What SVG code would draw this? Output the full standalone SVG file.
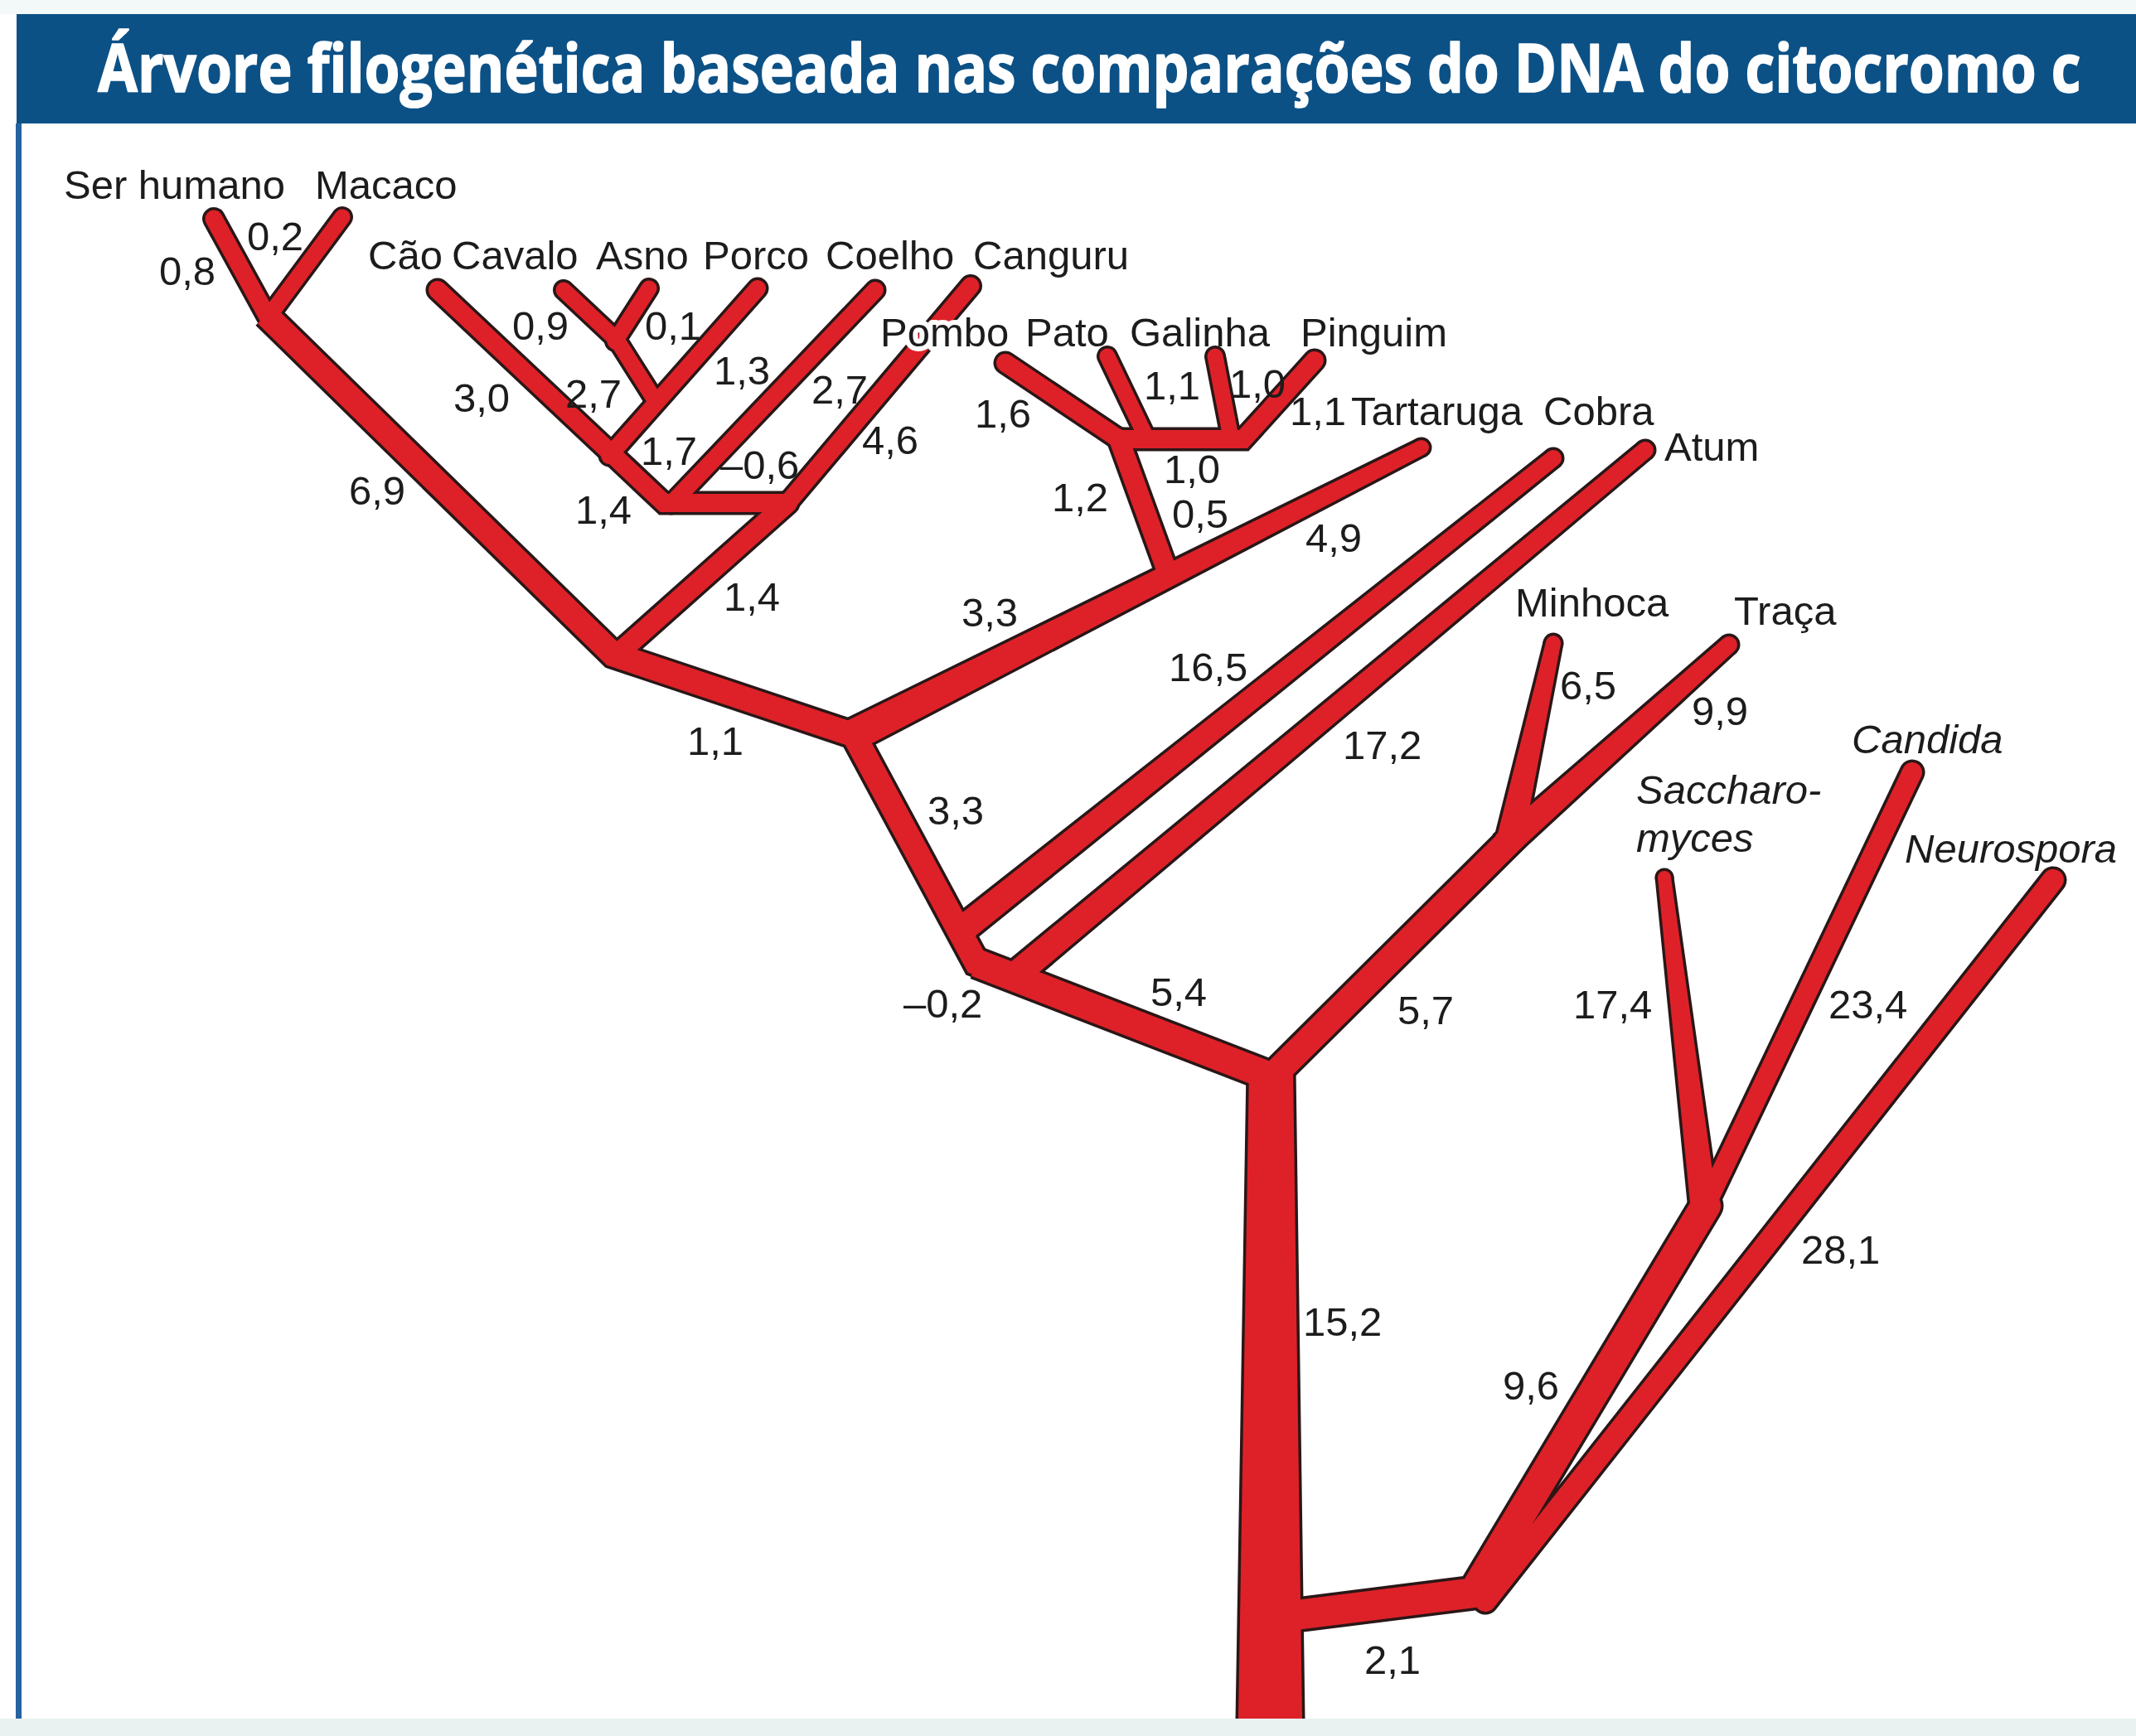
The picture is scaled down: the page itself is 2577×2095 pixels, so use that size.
<svg xmlns="http://www.w3.org/2000/svg" width="2577" height="2095" viewBox="0 0 2577 2095">
<style>
  .lbl{font-family:"Liberation Sans",Arial,Helvetica,sans-serif;font-size:49px;fill:#1c1c1c}
  .it{font-style:italic}
  .title{font-family:"Open Sans","Liberation Sans",sans-serif;font-weight:700;font-size:80px;fill:#ffffff;stroke:#ffffff;stroke-width:1.6px;stroke-linejoin:round}
  .halo{stroke:#ffffff;stroke-width:12px;stroke-linejoin:round;paint-order:stroke}
  .lines{fill:none;stroke-linecap:round;stroke-linejoin:miter;stroke-miterlimit:8}
  .ol{stroke:#2a1717}
  .rd{stroke:#de2128}
  .polys.ol{fill:#2a1717;stroke-width:7px;stroke-linejoin:round}
  .polys.rd{fill:#de2128;stroke:none}
  .butt{stroke-linecap:butt}
  .ol .w19{stroke-width:26px}.rd .w19{stroke-width:19px}
  .ol .w20{stroke-width:27px}.rd .w20{stroke-width:20px}
  .ol .w21{stroke-width:28px}.rd .w21{stroke-width:21px}
  .ol .w22{stroke-width:29px}.rd .w22{stroke-width:22px}
  .ol .w24{stroke-width:31px}.rd .w24{stroke-width:24px}
  .ol .w26{stroke-width:33px}.rd .w26{stroke-width:26px}
  .ol .w29{stroke-width:36px}.rd .w29{stroke-width:29px}
  .ol .w32{stroke-width:39px}.rd .w32{stroke-width:32px}
  .ol .w34{stroke-width:41px}.rd .w34{stroke-width:34px}
  .ol .w36{stroke-width:43px}.rd .w36{stroke-width:36px}
</style>
<defs>
  <!-- branch centre lines -->
  <path id="b-ser" d="M258,264 L326,388"/>
  <path id="b-mac" d="M413,262 L330,374"/>
  <path id="b-spine" d="M321,380 L740,790 L1030,887 L1178,1162 L1535,1300"/>
  <path id="b-54" d="M1178,1162 L1535,1300"/>
  <path id="b-cao" d="M528,350 L801,607 L948,607"/>
  <path id="b-14" d="M950,607 L742,792"/>
  <path id="b-cavalo" d="M680,350 L744,410 L787,478"/>
  <path id="b-asno" d="M783,348 L742,412"/>
  <path id="b-porco" d="M914,348 L735,550"/>
  <path id="b-coelho" d="M1056,350 L810,608"/>
  <path id="b-canguru" d="M1171,345 L946,612"/>
  <path id="b-aves" d="M1213,438 L1350,530 L1500,530 L1586,435"/>
  <path id="b-pato" d="M1336,430 L1383,528"/>
  <path id="b-galinha" d="M1466,430 L1485,528"/>
  <path id="b-aves-base" d="M1350,530 L1410,695"/>
  <path id="b-57" d="M1530,1304 L1826,1010"/>
  <path id="b-candida" d="M2056,1458 L2307,932"/>
  <path id="b-fungi" d="M1540,1952 L1778,1922 L2058,1455"/>
  <path id="b-neuro" d="M1792,1932 L2477,1062"/>
  <!-- tapered branches -->
  <polygon id="p-trunk" points="1507,1290 1560,1290 1571,2076 1494,2076"/>
  <polygon id="p-tartaruga" points="1021.4,870.1 1710.9,532.0 1719.1,548.0 1038.6,904.0"/>
  <circle id="c-tartaruga" cx="1715" cy="540" r="9"/>
  <polygon id="p-cobra" points="1148.0,1111.5 1867.8,545.2 1880.2,560.8 1168.0,1136.5"/>
  <circle id="c-cobra" cx="1874" cy="553" r="10"/>
  <polygon id="p-atum" points="1204.8,1172.7 1978.6,535.3 1991.4,550.7 1225.2,1197.3"/>
  <circle id="c-atum" cx="1985" cy="543" r="10"/>
  <polygon id="p-minhoca" points="1806.4,1008.6 1865.2,774.1 1882.8,777.9 1837.6,1015.4"/>
  <circle id="c-minhoca" cx="1874" cy="776" r="9"/>
  <polygon id="p-traca" points="1804.3,1008.1 2079.3,770.5 2092.7,785.5 1825.7,1031.9"/>
  <circle id="c-traca" cx="2086" cy="778" r="10"/>
  <polygon id="p-sacch" points="2039.1,1451.9 2000.1,1060.0 2015.9,1058.0 2070.9,1448.1"/>
  <circle id="c-sacch" cx="2008" cy="1059" r="8"/>
</defs>

<!-- page and header -->
<rect x="0" y="0" width="2577" height="2095" fill="#ffffff"/>
<rect x="0" y="0" width="2577" height="17" fill="#f3f8f8"/>
<rect x="20" y="17" width="2557" height="132" fill="#0c5186"/>
<rect x="19" y="149" width="7" height="1926" fill="#2463a0"/>
<text class="title" transform="translate(118,111) scale(0.87,1)" x="0" y="0" textLength="2750" lengthAdjust="spacingAndGlyphs">Árvore filogenética baseada nas comparações do DNA do citocromo c</text>

<!-- tree branches: dark outline pass, then red fill pass -->
<g id="connectors">
  <g class="lines ol">
    <use href="#b-ser" class="w21"/>
    <use href="#b-mac" class="w19"/>
    <use href="#b-spine" class="w29 butt"/>
    <use href="#b-54" class="w34 butt"/>
    <use href="#b-cao" class="w22"/>
    <use href="#b-14" class="w24"/>
    <use href="#b-cavalo" class="w19"/>
    <use href="#b-asno" class="w19"/>
    <use href="#b-porco" class="w20"/>
    <use href="#b-coelho" class="w20"/>
    <use href="#b-canguru" class="w21"/>
    <use href="#b-aves" class="w22"/>
    <use href="#b-pato" class="w19"/>
    <use href="#b-galinha" class="w19"/>
    <use href="#b-aves-base" class="w24"/>
    <use href="#b-57" class="w32"/>
    <use href="#b-candida" class="w24"/>
    <use href="#b-fungi" class="w36"/>
    <use href="#b-neuro" class="w26"/>
  </g>
  <g class="polys ol">
    <use href="#p-trunk"/>
    <use href="#p-tartaruga"/><use href="#c-tartaruga"/>
    <use href="#p-cobra"/><use href="#c-cobra"/>
    <use href="#p-atum"/><use href="#c-atum"/>
    <use href="#p-minhoca"/><use href="#c-minhoca"/>
    <use href="#p-traca"/><use href="#c-traca"/>
    <use href="#p-sacch"/><use href="#c-sacch"/>
  </g>
  <g class="lines rd">
    <use href="#b-ser" class="w21"/>
    <use href="#b-mac" class="w19"/>
    <use href="#b-spine" class="w29 butt"/>
    <use href="#b-54" class="w34 butt"/>
    <use href="#b-cao" class="w22"/>
    <use href="#b-14" class="w24"/>
    <use href="#b-cavalo" class="w19"/>
    <use href="#b-asno" class="w19"/>
    <use href="#b-porco" class="w20"/>
    <use href="#b-coelho" class="w20"/>
    <use href="#b-canguru" class="w21"/>
    <use href="#b-aves" class="w22"/>
    <use href="#b-pato" class="w19"/>
    <use href="#b-galinha" class="w19"/>
    <use href="#b-aves-base" class="w24"/>
    <use href="#b-57" class="w32"/>
    <use href="#b-candida" class="w24"/>
    <use href="#b-fungi" class="w36"/>
    <use href="#b-neuro" class="w26"/>
  </g>
  <g class="polys rd">
    <use href="#p-trunk"/>
    <use href="#p-tartaruga"/><use href="#c-tartaruga"/>
    <use href="#p-cobra"/><use href="#c-cobra"/>
    <use href="#p-atum"/><use href="#c-atum"/>
    <use href="#p-minhoca"/><use href="#c-minhoca"/>
    <use href="#p-traca"/><use href="#c-traca"/>
    <use href="#p-sacch"/><use href="#c-sacch"/>
  </g>

  <!-- branch lengths -->
  <g id="lengths" class="lbl">
    <text x="298" y="302">0,2</text>
    <text x="192" y="344">0,8</text>
    <text x="618" y="410">0,9</text>
    <text x="778" y="410">0,1</text>
    <text x="861" y="464">1,3</text>
    <text x="547" y="497">3,0</text>
    <text x="682" y="492">2,7</text>
    <text x="979" y="487">2,7</text>
    <text x="773" y="561">1,7</text>
    <text x="869" y="578">–0,6</text>
    <text x="1040" y="548">4,6</text>
    <text x="694" y="632">1,4</text>
    <text x="421" y="609">6,9</text>
    <text x="873" y="737">1,4</text>
    <text x="829" y="911">1,1</text>
    <text x="1176" y="516">1,6</text>
    <text x="1380" y="482">1,1</text>
    <text x="1483" y="480">1,0</text>
    <text x="1404" y="583">1,0</text>
    <text x="1414" y="637">0,5</text>
    <text x="1269" y="617">1,2</text>
    <text x="1575" y="666">4,9</text>
    <text x="1160" y="756">3,3</text>
    <text x="1410" y="822">16,5</text>
    <text x="1119" y="995">3,3</text>
    <text x="1620" y="916">17,2</text>
    <text x="1090" y="1228">–0,2</text>
    <text x="1388" y="1214">5,4</text>
    <text x="1686" y="1236">5,7</text>
    <text x="1882" y="844">6,5</text>
    <text x="2041" y="875">9,9</text>
    <text x="1898" y="1229">17,4</text>
    <text x="2206" y="1229">23,4</text>
    <text x="2173" y="1525">28,1</text>
    <text x="1572" y="1612">15,2</text>
    <text x="1813" y="1689">9,6</text>
    <text x="1646" y="2020">2,1</text>
  </g>
</g>

<!-- taxa -->
<g id="n-ser-humano" class="lbl"><text x="77" y="240">Ser humano</text></g>
<g id="n-macaco" class="lbl"><text x="380" y="240">Macaco</text></g>
<g id="n-cao" class="lbl"><text x="444" y="325">Cão</text></g>
<g id="n-cavalo" class="lbl"><text x="545" y="325">Cavalo</text></g>
<g id="n-asno" class="lbl"><text x="719" y="325">Asno</text></g>
<g id="n-porco" class="lbl"><text x="848" y="325">Porco</text></g>
<g id="n-coelho" class="lbl"><text x="996" y="325">Coelho</text></g>
<g id="n-canguru" class="lbl"><text x="1174" y="325">Canguru</text></g>
<g id="n-pombo" class="lbl"><text class="halo" x="1062" y="418">Pombo</text></g>
<g id="n-pato" class="lbl"><text x="1237" y="418">Pato</text></g>
<g id="n-galinha" class="lbl"><text x="1363" y="418">Galinha</text></g>
<g id="n-pinguim" class="lbl"><text x="1569" y="418">Pinguim</text></g>
<g id="n-pinguim-len" class="lbl"><text x="1556" y="513">1,1</text></g>
<g id="n-tartaruga" class="lbl"><text x="1630" y="513">Tartaruga</text></g>
<g id="n-cobra" class="lbl"><text x="1862" y="513">Cobra</text></g>
<g id="n-atum" class="lbl"><text x="2008" y="556">Atum</text></g>
<g id="n-minhoca" class="lbl"><text x="1828" y="744">Minhoca</text></g>
<g id="n-traca" class="lbl"><text x="2092" y="754">Traça</text></g>
<g id="n-candida" class="lbl it"><text x="2234" y="909">Candida</text></g>
<g id="n-saccharomyces" class="lbl it"><text x="1974" y="970">Saccharo-</text><text x="1974" y="1028">myces</text></g>
<g id="n-neurospora" class="lbl it"><text x="2298" y="1041">Neurospora</text></g>

<!-- bottom edge strip -->
<rect x="0" y="2074" width="2577" height="21" fill="#e9f1f1"/>
</svg>
